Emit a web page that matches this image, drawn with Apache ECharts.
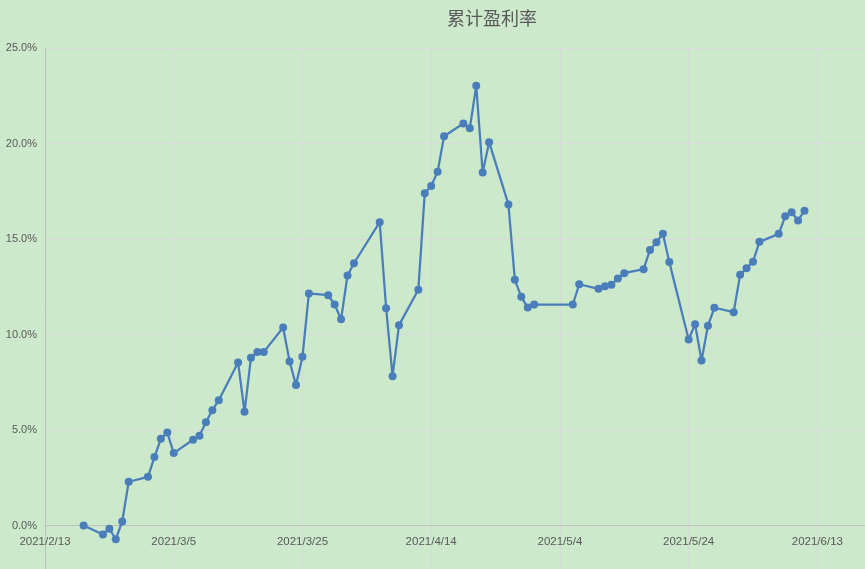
<!DOCTYPE html>
<html>
<head>
<meta charset="utf-8">
<script src="https://cdn.jsdelivr.net/npm/echarts@6/dist/echarts.min.js"></script>
<style>
html,body{margin:0;padding:0;background:#cce9cb;}
#chart{width:865px;height:569px;}
</style>
</head>
<body>
<div id="chart"></div>
<script>
const startDate = '2021/2/13';
const dates = [
  '2021/2/19','2021/2/22','2021/2/23','2021/2/24','2021/2/25','2021/2/26',
  '2021/3/1','2021/3/2','2021/3/3','2021/3/4','2021/3/5',
  '2021/3/8','2021/3/9','2021/3/10','2021/3/11','2021/3/12',
  '2021/3/15','2021/3/16','2021/3/17','2021/3/18','2021/3/19',
  '2021/3/22','2021/3/23','2021/3/24','2021/3/25','2021/3/26',
  '2021/3/29','2021/3/30','2021/3/31','2021/4/1','2021/4/2',
  '2021/4/6','2021/4/7','2021/4/8','2021/4/9',
  '2021/4/12','2021/4/13','2021/4/14','2021/4/15','2021/4/16',
  '2021/4/19','2021/4/20','2021/4/21','2021/4/22','2021/4/23',
  '2021/4/26','2021/4/27','2021/4/28','2021/4/29','2021/4/30',
  '2021/5/6','2021/5/7',
  '2021/5/10','2021/5/11','2021/5/12','2021/5/13','2021/5/14',
  '2021/5/17','2021/5/18','2021/5/19','2021/5/20','2021/5/21',
  '2021/5/24','2021/5/25','2021/5/26','2021/5/27','2021/5/28',
  '2021/5/31','2021/6/1','2021/6/2','2021/6/3','2021/6/4',
  '2021/6/7','2021/6/8','2021/6/9','2021/6/10','2021/6/11'
];
const profitRate = [
  0.00,-0.47,-0.17,-0.72,0.21,2.29,
  2.55,3.58,4.54,4.87,3.79,
  4.49,4.70,5.41,6.04,6.56,
  8.53,5.95,8.78,9.09,9.09,
  10.37,8.59,7.35,8.83,12.15,
  12.06,11.57,10.80,13.09,13.73,
  15.88,11.38,7.82,10.49,
  12.34,17.40,17.78,18.52,20.38,
  21.05,20.80,23.02,18.48,20.07,
  16.81,12.86,11.97,11.41,11.57,
  11.57,12.63,
  12.39,12.53,12.60,12.93,13.21,
  13.42,14.43,14.83,15.27,13.79,
  9.74,10.54,8.64,10.46,11.40,
  11.17,13.13,13.47,13.81,14.85,
  15.27,16.19,16.40,15.97,16.48
];
const yTicks = [-5, 0, 5, 10, 15, 20, 25];
const xTickStepDays = 20;

const DAY = 86400000;
function toUTC(s){ const p = s.split('/').map(Number); return Date.UTC(p[0], p[1]-1, p[2]); }
const t0 = toUTC(startDate);
const seriesData = dates.map((d,i)=>[(toUTC(d)-t0)/DAY, profitRate[i]]);
function dayLabel(v){
  if (Math.abs(v % xTickStepDays) > 1e-6) return '';
  const d = new Date(t0 + v*DAY);
  return d.getUTCFullYear()+'/'+(d.getUTCMonth()+1)+'/'+d.getUTCDate();
}

const gridTop = 48, gridHeight = 573;
const yMin = yTicks[0], yMax = yTicks[yTicks.length-1];
const zeroOffset = -gridHeight * (0 - yMin) / (yMax - yMin);

const chart = echarts.init(document.getElementById('chart'));
chart.setOption({
  backgroundColor: '#cce9cb',
  animation: false,
  title: {
    text: '累计盈利率',
    left: 487, top: 4,
    textAlign: 'center',
    textStyle: {fontFamily: 'Noto Sans CJK SC', fontSize: 18, fontWeight: 'normal', color: '#595959'}
  },
  grid: {left: 45, top: gridTop, width: 820, height: gridHeight, containLabel: false, outerBoundsMode: 'none'},
  xAxis: {
    type: 'value', min: 0, max: 127.4, interval: xTickStepDays,
    position: 'bottom', offset: zeroOffset,
    axisLine: {show: true, onZero: false, lineStyle: {color: '#bfbfbf', width: 1}},
    axisTick: {show: false},
    axisLabel: {formatter: dayLabel, color: '#595959', fontSize: 11.5, fontFamily: 'Liberation Sans', margin: 10, showMaxLabel: false},
    splitLine: {show: true, lineStyle: {color: '#d9d9d9', width: 1}}
  },
  yAxis: {
    type: 'value', min: yMin, max: yMax, interval: 5,
    axisLine: {show: true, lineStyle: {color: '#bfbfbf', width: 1}},
    axisTick: {show: false},
    axisLabel: {formatter: v => v < 0 ? '' : v.toFixed(1)+'%', color: '#595959', fontSize: 11, fontFamily: 'Liberation Sans', margin: 8},
    splitLine: {show: true, lineStyle: {color: '#d9d9d9', width: 1}}
  },
  series: [{
    type: 'line',
    data: seriesData,
    symbol: 'circle',
    symbolSize: 8,
    itemStyle: {color: '#4a7ebb'},
    lineStyle: {color: '#4a7ebb', width: 2.25},
    clip: false
  }]
});
</script>
</body>
</html>
